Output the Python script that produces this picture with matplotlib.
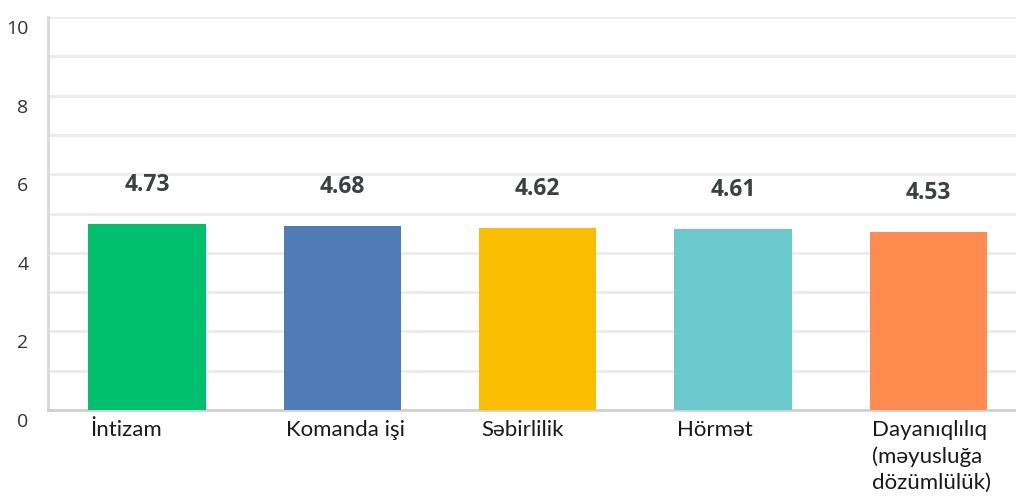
import matplotlib.pyplot as plt
import matplotlib.transforms as mtransforms
import numpy as np

# data
categories = ["İntizam", "Komanda işi", "Səbirlilik", "Hörmət",
              "Dayanıqlılıq\n(məyusluğa\ndözümlülük)"]
scores = [4.73, 4.68, 4.62, 4.61, 4.53]
colors = ["#00BF6F", "#507CB6", "#F9BE00", "#6BC8CD", "#FF8B4F"]
y_ticks = [0, 2, 4, 6, 8, 10]

fig = plt.figure(figsize=(10.16, 4.96), dpi=100)
ax = fig.add_axes([0.0472, 0.1734, 0.9528, 0.7923])

x = np.arange(len(categories))
ax.bar(x, scores, width=0.6, color=colors, zorder=3)

for xi, v in zip(x, scores):
    ax.text(xi, v + 1.0, f"{v:.2f}", ha="center", va="center",
            fontsize=16.5, fontweight="bold", color="#3c4043",
            family="Open Sans")

ax.set_xlim(-0.507, 4.448)
ax.set_ylim(0, 10)
ax.set_yticks(y_ticks)
ax.set_yticks(range(1, 10, 2), minor=True)
ax.set_yticklabels([str(t) for t in y_ticks], fontsize=14, color="#333333",
                   family="Open Sans")
ax.tick_params(axis="y", which="both", length=0, pad=14)
ax.grid(axis="y", which="both", color="#ebebeb", linewidth=2, zorder=0)
ax.grid(axis="x", visible=False)

# shift y tick labels down slightly like the reference
offset = mtransforms.ScaledTranslation(0, -10 / 100, fig.dpi_scale_trans)
for lab in ax.get_yticklabels():
    lab.set_transform(lab.get_transform() + offset)

ax.set_xticks([])
for xi, name in zip(x, categories):
    ax.annotate(name, xy=(xi - 0.3, 0), xycoords="data",
                xytext=(1.5, -7), textcoords="offset points",
                ha="left", va="top", fontsize=16, color="#1a1a1a",
                family="Lato", linespacing=1.4)

for side in ["top", "right"]:
    ax.spines[side].set_visible(False)
ax.spines["left"].set_color("#d9d9d9")
ax.spines["left"].set_linewidth(2)
ax.spines["bottom"].set_color("#d0d0d0")
ax.spines["bottom"].set_linewidth(2)

fig.savefig("out.png", dpi=100)
